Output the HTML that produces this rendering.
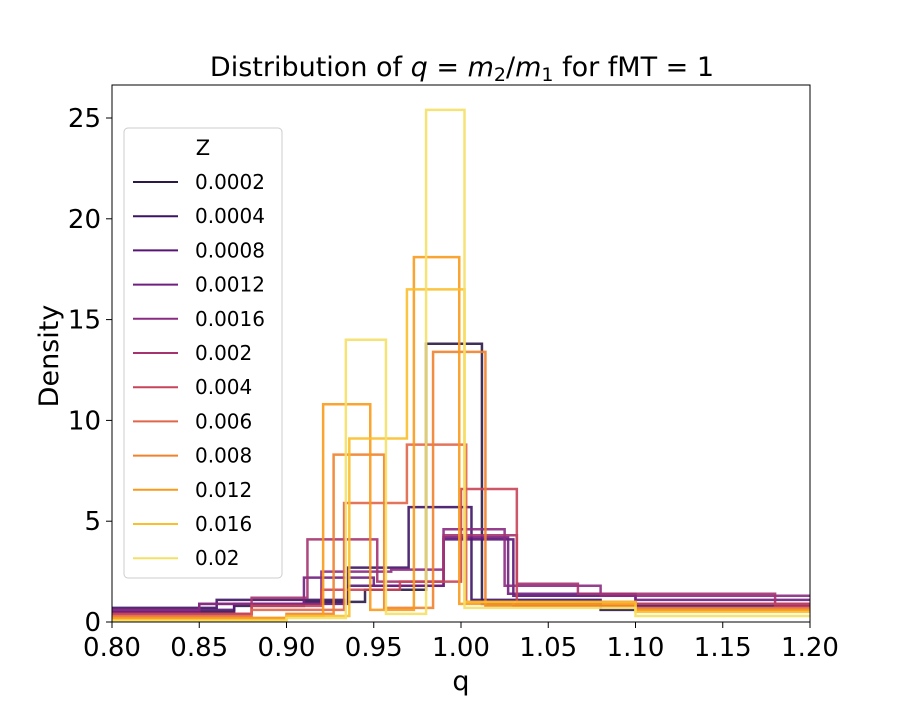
<!DOCTYPE html>
<html><head><meta charset="utf-8">
<style>
body{margin:0;background:#fff;}
svg{font-family:"DejaVu Sans","Liberation Sans",sans-serif;}
</style></head>
<body>
<svg id="chart" width="900" height="700" viewBox="0 0 900 700">
<defs><clipPath id="pc"><rect x="112" y="85" width="698" height="537"/></clipPath></defs>
<rect x="0" y="0" width="900" height="700" fill="#fff"/>
<g id="series" clip-path="url(#pc)"></g>
<rect x="112" y="85" width="698" height="537" fill="none" stroke="#000" stroke-width="1"/>
<g id="axes"></g>
<text x="462" y="76" font-size="27" text-anchor="middle">Distribution of <tspan font-style="italic">q</tspan> = <tspan font-style="italic">m</tspan><tspan font-size="19" dy="5">2</tspan><tspan dy="-5">/</tspan><tspan font-style="italic">m</tspan><tspan font-size="19" dy="5">1</tspan><tspan dy="-5"> for fMT = 1</tspan></text>
<text x="461" y="690" font-size="27" text-anchor="middle">q</text>
<text transform="translate(58,356) rotate(-90)" font-size="27" text-anchor="middle">Density</text>
<g id="legend">
<rect x="124" y="128" width="158" height="450" rx="4" fill="#fff" fill-opacity="0.8" stroke="#ccc" stroke-width="1"/>
<text x="203" y="155" font-size="21" text-anchor="middle">Z</text>
</g>
</svg>
<script>
const labels=['0.0002','0.0004','0.0008','0.0012','0.0016','0.002','0.004','0.006','0.008','0.012','0.016','0.02'];
const colors=['#2a1a45','#3d1465','#561575','#6f1f80','#8a2a82','#a5336f','#c84558','#e0664a','#f0822c','#f99a1c','#fbbf2e','#f5e067'];
const edges0=[0.75,0.87,0.91,0.945,0.98,1.012,1.08,1.25];
const dens0=[0.5,0.8,1.0,1.6,13.8,0.9,0.6];
const edges1=[0.75,0.86,0.935,0.97,1.006,1.08,1.25];
const dens1=[0.7,1.1,2.7,5.7,1.1,0.8];
const edges2=[0.75,0.87,0.935,0.99,1.03,1.10,1.25];
const dens2=[0.6,0.9,1.8,4.1,1.3,0.9];
const edges3=[0.75,0.85,0.91,0.95,0.99,1.027,1.10,1.25];
const dens3=[0.5,0.9,2.2,1.8,4.2,1.4,1.1];
const edges4=[0.75,0.85,0.92,0.96,0.99,1.025,1.08,1.25];
const dens4=[0.6,0.9,2.5,2.6,4.6,1.8,1.3];
const edges5=[0.75,0.88,0.912,0.952,0.99,1.032,1.067,1.18,1.25];
const dens5=[0.4,1.2,4.1,2.0,4.3,1.9,1.4,0.8];
const edges6=[0.75,0.88,0.92,0.965,1.0,1.032,1.10,1.25];
const dens6=[0.4,0.8,1.6,2.0,6.6,1.0,0.9];
const edges7=[0.75,0.88,0.933,0.969,1.003,1.03,1.10,1.25];
const dens7=[0.3,0.6,5.9,8.8,1.0,0.8,0.7];
const edges8=[0.75,0.90,0.927,0.956,0.984,1.014,1.10,1.25];
const dens8=[0.2,0.4,8.3,0.7,13.4,0.8,0.6];
const edges9=[0.75,0.90,0.921,0.948,0.973,0.999,1.10,1.25];
const dens9=[0.2,0.3,10.8,0.6,18.1,0.9,0.6];
const edges10=[0.75,0.90,0.936,0.969,1.002,1.10,1.25];
const dens10=[0.1,0.3,9.1,16.5,1.0,0.5];
const edges11=[0.75,0.90,0.934,0.957,0.980,1.002,1.10,1.25];
const dens11=[0.05,0.2,14.0,0.4,25.4,0.7,0.3];
const allEdges=[edges0,edges1,edges2,edges3,edges4,edges5,edges6,edges7,edges8,edges9,edges10,edges11];
const allDens=[dens0,dens1,dens2,dens3,dens4,dens5,dens6,dens7,dens8,dens9,dens10,dens11];
const xTicks=[0.80,0.85,0.90,0.95,1.00,1.05,1.10,1.15,1.20];
const yTicks=[0,5,10,15,20,25];

const NS='http://www.w3.org/2000/svg';
const X=q=>112+(q-0.8)/0.4*698;
const Y=d=>622-d*20.16;
const gS=document.getElementById('series');
for(let s=0;s<allEdges.length;s++){
  const e=allEdges[s],d=allDens[s];
  let p='M'+X(e[0])+','+Y(0);
  for(let i=0;i<d.length;i++){p+=' L'+X(e[i])+','+Y(d[i])+' L'+X(e[i+1])+','+Y(d[i]);}
  p+=' L'+X(e[e.length-1])+','+Y(0);
  const el=document.createElementNS(NS,'path');
  el.setAttribute('d',p);el.setAttribute('fill','none');el.setAttribute('stroke',colors[s]);
  el.setAttribute('stroke-width','2.5');el.setAttribute('stroke-opacity','0.9');
  
  
  gS.appendChild(el);
}
const gA=document.getElementById('axes');
xTicks.forEach(t=>{
  const l=document.createElementNS(NS,'line');
  l.setAttribute('x1',X(t));l.setAttribute('x2',X(t));l.setAttribute('y1',622);l.setAttribute('y2',628);l.setAttribute('stroke','#000');
  
  
  gA.appendChild(l);
  const tx=document.createElementNS(NS,'text');
  tx.setAttribute('x',X(t));tx.setAttribute('y',656);tx.setAttribute('font-size','26');tx.setAttribute('text-anchor','middle');
  tx.textContent=t.toFixed(2);
  
  
  gA.appendChild(tx);
});
yTicks.forEach(t=>{
  const l=document.createElementNS(NS,'line');
  l.setAttribute('x1',106);l.setAttribute('x2',112);l.setAttribute('y1',Y(t));l.setAttribute('y2',Y(t));l.setAttribute('stroke','#000');
  
  
  gA.appendChild(l);
  const tx=document.createElementNS(NS,'text');
  tx.setAttribute('x',101);tx.setAttribute('y',Y(t)+9);tx.setAttribute('font-size','26');tx.setAttribute('text-anchor','end');
  tx.textContent=t;
  
  
  gA.appendChild(tx);
});
const gL=document.getElementById('legend');
labels.forEach((lab,i)=>{
  const y=182+i*34.2;
  const l=document.createElementNS(NS,'line');
  l.setAttribute('x1',133);l.setAttribute('x2',178);l.setAttribute('y1',y);l.setAttribute('y2',y);
  l.setAttribute('stroke',colors[i]);l.setAttribute('stroke-width','2');
  
  
  gL.appendChild(l);
  const tx=document.createElementNS(NS,'text');
  tx.setAttribute('x',195);tx.setAttribute('y',y+7);tx.setAttribute('font-size','20');
  tx.textContent=lab;
  
  
  gL.appendChild(tx);
});
</script>
</body></html>
